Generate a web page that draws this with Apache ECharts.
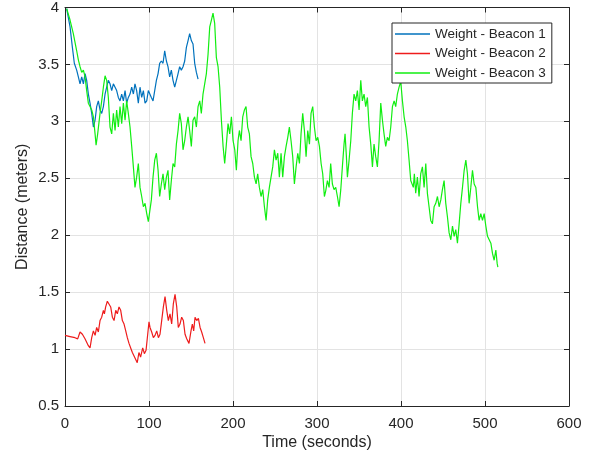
<!DOCTYPE html>
<html>
<head>
<meta charset="utf-8">
<script src="https://cdn.jsdelivr.net/npm/echarts@6/dist/echarts.min.js"></script>
<style>
html,body{margin:0;padding:0;background:#fff;}
#chart{width:605px;height:459px;}
</style>
</head>
<body>
<div id="chart"></div>
<script>
// ---- Data (time in seconds, distance in meters) ----
const seriesNames = ['Weight - Beacon 1', 'Weight - Beacon 2', 'Weight - Beacon 3'];
const xTicks = [0, 100, 200, 300, 400, 500, 600];
const yTicks = [0.5, 1, 1.5, 2, 2.5, 3, 3.5, 4];

const beacon1 = [[2,3.99],[6,3.83],[8.8,3.65],[11.1,3.51],[13.9,3.45],[15.9,3.39],[17.9,3.33],[19.9,3.39],[21.9,3.33],[23.9,3.42],[25.8,3.36],[27.8,3.24],[29.8,3.16],[31.8,3.07],[33.8,2.95],[35.8,3.01],[37.7,3.13],[39.7,3.18],[41.7,3.10],[43.7,3.07],[45.7,3.13],[47.7,3.24],[49.6,3.30],[51.6,3.36],[53.6,3.33],[55.6,3.27],[57.6,3.33],[59.6,3.30],[61.5,3.27],[63.5,3.21],[65.5,3.18],[67.5,3.24],[69.5,3.18],[71.5,3.27],[73.4,3.16],[75.4,3.21],[77.4,3.24],[79.4,3.30],[81.4,3.24],[83.3,3.33],[85.3,3.27],[87.3,3.16],[89.3,3.30],[91.3,3.21],[93.3,3.27],[95.3,3.16],[97.3,3.18],[99.2,3.27],[100.8,3.27],[102.8,3.21],[104.8,3.18],[106.8,3.27],[108.8,3.36],[110.8,3.42],[112.7,3.51],[114.7,3.53],[116.7,3.51],[118.7,3.62],[120.7,3.53],[122.6,3.48],[124.6,3.39],[126.6,3.45],[128.6,3.36],[130.6,3.30],[132.6,3.36],[134.6,3.42],[136.5,3.48],[138.5,3.45],[140.5,3.48],[142.5,3.53],[144.5,3.65],[146.5,3.71],[148.4,3.77],[150.4,3.71],[152.4,3.68],[154.4,3.51],[156.4,3.43],[158.4,3.37]];

const beacon2 = [[0,1.12],[6,1.11],[11.9,1.10],[15.1,1.09],[17.9,1.15],[20.7,1.13],[23.8,1.09],[27.8,1.03],[29.8,1.01],[31.8,1.10],[33.8,1.16],[35.8,1.12],[37.7,1.19],[39.7,1.15],[41.7,1.25],[43.7,1.28],[45.7,1.34],[46.9,1.31],[48.4,1.37],[50.4,1.42],[52.4,1.43],[54.4,1.37],[56.4,1.28],[58.4,1.25],[60.4,1.34],[62.3,1.31],[64.3,1.37],[66.3,1.34],[68.3,1.25],[70.3,1.22],[72.3,1.16],[74.2,1.10],[76.2,1.05],[78.2,1.01],[80.2,0.97],[82.2,0.94],[84.2,0.93],[86,0.88],[88,0.97],[90,0.93],[92.5,1.01],[94.5,0.96],[96.5,0.99],[98.4,0.98],[100,1.24],[101.2,1.19],[103.2,1.15],[105.2,1.10],[107.2,1.12],[109.2,1.16],[111.2,1.10],[113.1,1.13],[115.1,1.25],[117.1,1.37],[119.1,1.46],[121.1,1.34],[123,1.25],[125,1.31],[127,1.22],[129,1.40],[131,1.48],[133,1.37],[134.9,1.19],[136.9,1.22],[138.9,1.28],[140.9,1.25],[142.9,1.13],[144.9,1.09],[147.6,1.05],[150,1.16],[151.6,1.22],[153.2,1.16],[154.8,1.28],[156.8,1.25],[158.8,1.27],[160.8,1.19],[162.7,1.15],[164.7,1.10],[166.7,1.05]];

const beacon3 = [[2,3.99],[6,3.89],[9.9,3.77],[13.9,3.62],[15.9,3.54],[17.9,3.48],[19.9,3.43],[21.9,3.45],[23.9,3.39],[25.8,3.27],[27.8,3.16],[29.8,3.13],[31.8,3.10],[33.8,3.04],[35.8,2.89],[37,2.79],[38.9,2.89],[41.7,3.07],[43.7,3.18],[45.7,3.30],[47.7,3.40],[49.6,3.36],[51.6,3.21],[53.6,2.95],[55.6,2.89],[57.6,3.07],[59.6,2.92],[61.5,3.10],[63.5,2.95],[65.5,3.13],[67.5,2.98],[69.5,3.16],[71.5,3.01],[73.4,3.18],[75.4,3.07],[77.4,2.95],[79.4,2.78],[81.4,2.60],[83.3,2.42],[85.3,2.51],[87.3,2.63],[89.3,2.42],[91.3,2.34],[93.3,2.25],[95.3,2.28],[97.3,2.19],[99.2,2.12],
[100.8,2.13],[102.8,2.31],[104.8,2.51],[106.8,2.66],[108.8,2.72],[110.8,2.57],[112.7,2.34],[114.7,2.45],[116.7,2.54],[118.7,2.40],[120.7,2.51],[122.6,2.57],[124.6,2.31],[126.6,2.48],[128.6,2.63],[130.6,2.60],[132.6,2.80],[134.6,2.92],[136.5,3.07],[138.5,2.98],[140.5,2.75],[142.5,2.83],[144.5,2.95],[146.5,3.04],[148.4,2.92],[150.4,2.78],[152.4,3.01],[154.4,3.04],[156.4,2.95],[158.4,3.13],[160.4,3.18],[162.3,3.07],[164.3,3.24],[166.3,3.33],[168.3,3.42],[170.3,3.59],[172.3,3.83],[174.3,3.89],[176.2,3.95],[178.2,3.86],[180.2,3.56],[182.2,3.48],[184.2,3.30],[186.2,3.01],[188.2,2.78],[190.1,2.63],[192.1,2.80],[194.1,2.98],[196.1,2.89],[198.1,3.04],[200.1,2.83],[202.1,2.75],[204,2.57],[206,2.83],
[207.6,2.92],[209.6,2.83],[211.6,3.04],[213.6,3.10],[215.5,3.13],[217.5,2.95],[219.5,2.89],[221.5,2.69],[223.5,2.63],[225.5,2.51],[227.5,2.45],[229.4,2.54],[231.4,2.42],[233.4,2.34],[235.4,2.40],[237.4,2.25],[239.4,2.13],[241.3,2.31],[243.3,2.42],[245.3,2.51],[247.3,2.60],[249.3,2.75],[251.3,2.66],[253.3,2.72],[255.2,2.51],[257.2,2.72],[259.2,2.51],[261.2,2.69],[263.2,2.78],[265.2,2.86],[267.1,2.95],[269.1,2.83],[271.1,2.69],[273.1,2.45],[275.1,2.60],[277.1,2.72],[279.1,2.63],[281,2.89],[283,3.07],[285,2.92],[287,2.69],[289,2.92],[291,2.80],[292.9,3.07],[294.9,3.13],[296.9,2.95],[298.9,2.83],[300.9,2.86],[302.9,2.78],[304.9,2.63],[306.8,2.54],[308.8,2.34],
[310.4,2.39],[312.4,2.48],[314.4,2.42],[316.3,2.63],[318.3,2.45],[320.3,2.40],[322.3,2.42],[324.3,2.34],[326.3,2.25],[328.3,2.40],[330.2,2.60],[332.2,2.80],[333.4,2.89],[335,2.69],[336.2,2.51],[338.2,2.66],[340.2,2.83],[342.1,3.07],[344.1,3.24],[346.1,3.18],[348.1,3.27],[350.1,3.10],[352.1,3.36],[354,3.18],[356,3.24],[358,3.13],[360,3.21],[362,2.95],[364,2.80],[366,2.60],[367.9,2.80],[369.9,2.69],[371.9,2.60],[373.9,2.83],[375.9,3.16],[377.9,3.01],[379.8,2.89],[381.8,2.78],[383.8,2.86],[385.8,2.83],[387.8,2.95],[389.8,3.13],[391.8,3.18],[393.7,3.13],[395.7,3.24],[397.7,3.30],[399.7,3.35],[401.7,3.18],[403.7,3.04],[405.7,2.95],[407.6,2.83],[409.6,2.66],[411.6,2.48],
[414.7,2.42],[415.9,2.54],[417.5,2.37],[419.5,2.51],[421.5,2.34],[423.5,2.54],[425.5,2.60],[427.5,2.42],[429.5,2.63],[431.4,2.37],[433.4,2.25],[435.4,2.13],[437.4,2.10],[439.4,2.25],[441.4,2.28],[443.4,2.34],[445.4,2.25],[447.4,2.31],[449.3,2.40],[451.3,2.48],[453.3,2.28],[455.3,2.16],[457.3,2.02],[459.3,1.96],[461.3,2.08],[463.3,1.99],[465.2,2.05],[467.2,1.93],[469.2,2.10],[471.2,2.28],[473.2,2.42],[475.2,2.57],[477.2,2.66],[479.1,2.54],[481.1,2.28],[483.1,2.42],[485.1,2.57],[487.1,2.45],[489.1,2.42],[491.1,2.25],[493,2.13],[495,2.19],[497,2.13],[499,2.19],[501,2.08],[503,1.99],[505,1.96],[507,1.93],[508.9,1.84],[510.9,1.78],[512.9,1.87],[514.5,1.75],[515.3,1.72]];

// ---- Chart ----
const FONT = "'Liberation Sans', Arial, Helvetica, sans-serif";
const INK = '#262626';
const COLORS = ['#0072bd', '#ee1c1c', '#11ee11'];
const chart = echarts.init(document.getElementById('chart'), null, {renderer: 'canvas'});

const xMin = xTicks[0], xMax = xTicks[xTicks.length - 1], xStep = xTicks[1] - xTicks[0];
const yMin = yTicks[0], yMax = yTicks[yTicks.length - 1], yStep = yTicks[1] - yTicks[0];

function axisBase(extra) {
  return Object.assign({
    type: 'value',
    axisLine: {show: true, onZero: false, lineStyle: {color: INK, width: 1}},
    axisTick: {show: true, inside: true, length: 5, lineStyle: {color: INK}},
    splitLine: {show: false},
    axisLabel: {show: false}
  }, extra);
}

chart.setOption({
  animation: false,
  backgroundColor: '#ffffff',
  textStyle: {fontFamily: FONT},
  grid: {left: 65, right: 36, top: 7, bottom: 53, containLabel: false},
  legend: {
    orient: 'vertical',
    left: 392, top: 23,
    data: seriesNames.map(function (n, i) {
      return {name: n, icon: 'rect', itemStyle: {color: COLORS[i], borderWidth: 0}};
    }),
    itemWidth: 35, itemHeight: 1.4, itemGap: 3.5,
    padding: [3, 6, 2, 3],
    backgroundColor: '#ffffff',
    borderColor: INK, borderWidth: 1, borderRadius: 0,
    textStyle: {fontFamily: FONT, fontSize: 13.5, color: INK, lineHeight: 16}
  },
  xAxis: [
    axisBase({
      position: 'bottom', min: xMin, max: xMax, interval: xStep,
      splitLine: {show: true, lineStyle: {color: '#e3e3e3', width: 1}},
      axisLabel: {show: true, fontFamily: FONT, fontSize: 15, color: INK, margin: 10},
      name: 'Time (seconds)', nameLocation: 'middle', nameGap: 29, nameMoveOverlap: false,
      nameTextStyle: {fontFamily: FONT, fontSize: 16, color: INK}
    }),
    axisBase({position: 'top', min: xMin, max: xMax, interval: xStep})
  ],
  yAxis: [
    axisBase({
      position: 'left', min: yMin, max: yMax, interval: yStep,
      splitLine: {show: true, lineStyle: {color: '#e3e3e3', width: 1}},
      axisLabel: {show: true, fontFamily: FONT, fontSize: 15, color: INK, margin: 6},
      name: 'Distance (meters)', nameLocation: 'middle', nameGap: 34, nameMoveOverlap: false,
      nameTextStyle: {fontFamily: FONT, fontSize: 16, color: INK}
    }),
    axisBase({position: 'right', min: yMin, max: yMax, interval: yStep})
  ],
  series: [
    {name: seriesNames[0], type: 'line', data: beacon1, symbol: 'none',
     lineStyle: {color: COLORS[0], width: 1.2}, itemStyle: {color: COLORS[0]}},
    {name: seriesNames[1], type: 'line', data: beacon2, symbol: 'none',
     lineStyle: {color: COLORS[1], width: 1.2}, itemStyle: {color: COLORS[1]}},
    {name: seriesNames[2], type: 'line', data: beacon3, symbol: 'none',
     lineStyle: {color: COLORS[2], width: 1.2}, itemStyle: {color: COLORS[2]}}
  ]
});
</script>
</body>
</html>
